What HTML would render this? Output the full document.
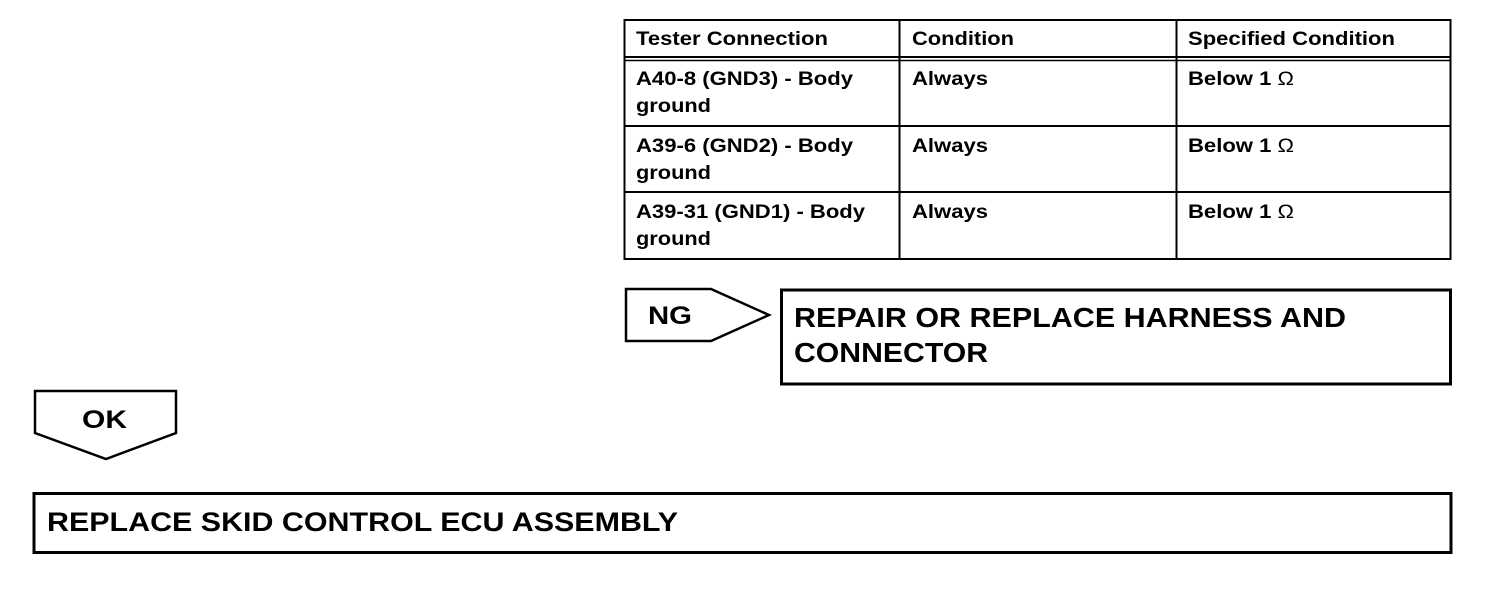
<!DOCTYPE html>
<html><head><style>
html,body{margin:0;padding:0;background:#fff;}
svg{display:block;}
text{font-family:"Liberation Sans",Arial,sans-serif;font-weight:bold;fill:#000;}
</style></head><body>
<svg width="1504" height="590" viewBox="0 0 1504 590" xmlns="http://www.w3.org/2000/svg">
<g fill="none" stroke="#000">
<rect x="624.5" y="20" width="826" height="239" stroke-width="2"/>
<line x1="624" y1="57" x2="1451" y2="57" stroke-width="2"/>
<line x1="624" y1="60.5" x2="1451" y2="60.5" stroke-width="1.5"/>
<line x1="624" y1="126" x2="1451" y2="126" stroke-width="2"/>
<line x1="624" y1="192" x2="1451" y2="192" stroke-width="2"/>
<line x1="899.5" y1="20" x2="899.5" y2="259" stroke-width="2"/>
<line x1="1176.5" y1="20" x2="1176.5" y2="259" stroke-width="2"/>
<polygon points="626,289 711,289 769,315 711,341 626,341" stroke-width="2.5"/>
<rect x="781.5" y="290" width="669" height="94" stroke-width="3"/>
<polygon points="35,391 176,391 176,433 106,459 35,433" stroke-width="2.5"/>
<rect x="34" y="493.5" width="1417" height="59" stroke-width="3"/>
</g>
<g font-size="19" lengthAdjust="spacingAndGlyphs">
<text x="636" y="45" textLength="192" lengthAdjust="spacingAndGlyphs">Tester Connection</text>
<text x="912" y="45" textLength="102" lengthAdjust="spacingAndGlyphs">Condition</text>
<text x="1188" y="45" textLength="207" lengthAdjust="spacingAndGlyphs">Specified Condition</text>
<text x="636" y="85" textLength="217" lengthAdjust="spacingAndGlyphs">A40-8 (GND3) - Body</text>
<text x="636" y="112" textLength="75" lengthAdjust="spacingAndGlyphs">ground</text>
<text x="912" y="85" textLength="76" lengthAdjust="spacingAndGlyphs">Always</text>
<text x="1188" y="85" textLength="106" lengthAdjust="spacingAndGlyphs">Below 1 <tspan font-weight="normal">Ω</tspan></text>
<text x="636" y="152" textLength="217" lengthAdjust="spacingAndGlyphs">A39-6 (GND2) - Body</text>
<text x="636" y="179" textLength="75" lengthAdjust="spacingAndGlyphs">ground</text>
<text x="912" y="152" textLength="76" lengthAdjust="spacingAndGlyphs">Always</text>
<text x="1188" y="152" textLength="106" lengthAdjust="spacingAndGlyphs">Below 1 <tspan font-weight="normal">Ω</tspan></text>
<text x="636" y="218" textLength="229" lengthAdjust="spacingAndGlyphs">A39-31 (GND1) - Body</text>
<text x="636" y="245" textLength="75" lengthAdjust="spacingAndGlyphs">ground</text>
<text x="912" y="218" textLength="76" lengthAdjust="spacingAndGlyphs">Always</text>
<text x="1188" y="218" textLength="106" lengthAdjust="spacingAndGlyphs">Below 1 <tspan font-weight="normal">Ω</tspan></text>
</g>
<text x="648" y="324" font-size="25" textLength="44" lengthAdjust="spacingAndGlyphs">NG</text>
<text x="82" y="428" font-size="25" textLength="45" lengthAdjust="spacingAndGlyphs">OK</text>
<text x="794" y="327" font-size="28" textLength="552" lengthAdjust="spacingAndGlyphs">REPAIR OR REPLACE HARNESS AND</text>
<text x="794" y="362" font-size="28" textLength="194" lengthAdjust="spacingAndGlyphs">CONNECTOR</text>
<text x="47" y="531" font-size="27" textLength="631" lengthAdjust="spacingAndGlyphs">REPLACE SKID CONTROL ECU ASSEMBLY</text>
</svg>
</body></html>
